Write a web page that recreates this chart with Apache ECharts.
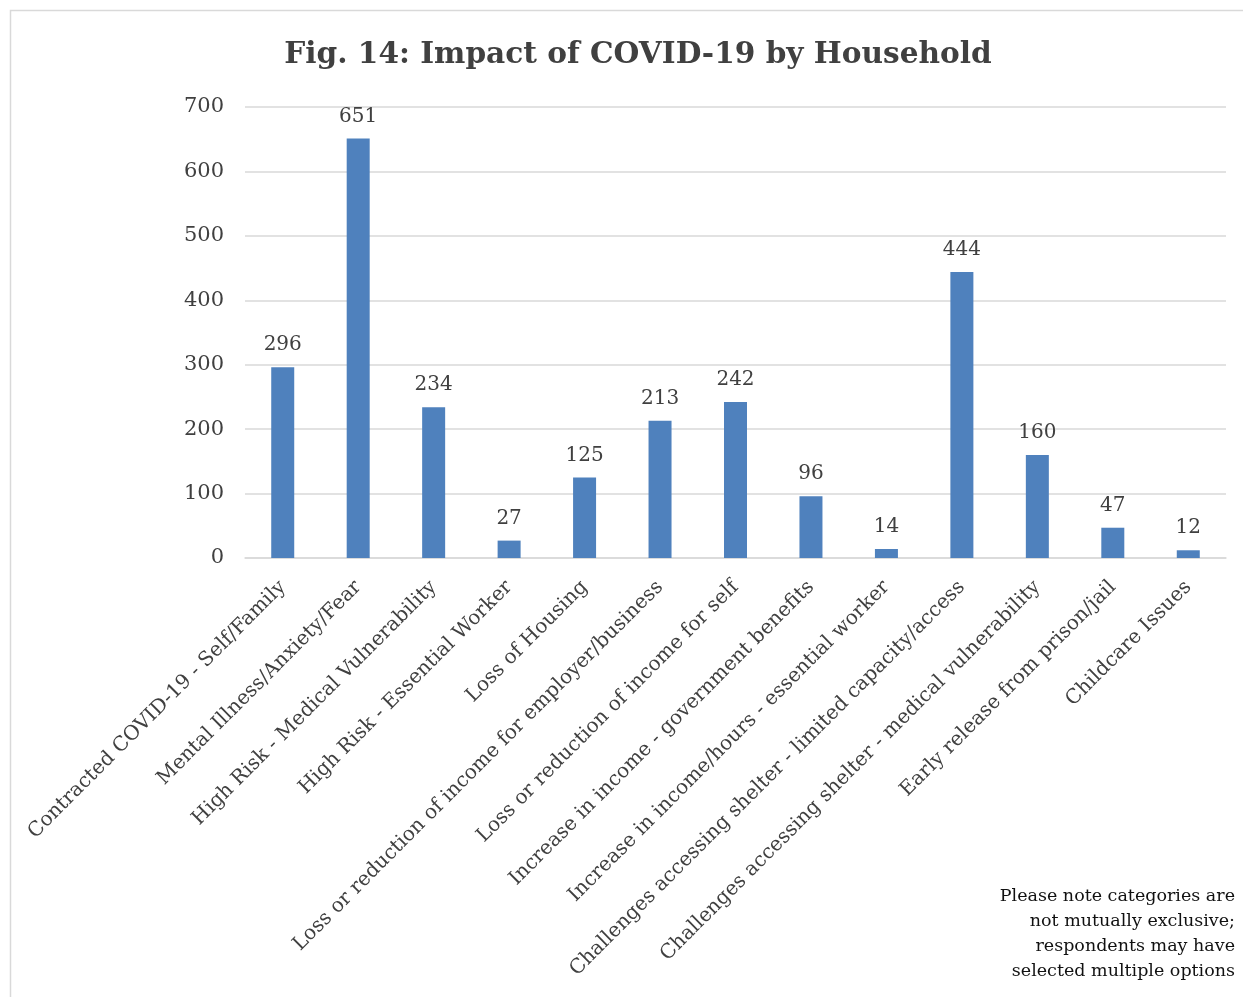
<!DOCTYPE html>
<html>
<head>
<meta charset="utf-8">
<script src="https://cdn.jsdelivr.net/npm/echarts@6/dist/echarts.min.js"></script>
<style>html,body{margin:0;padding:0;background:#fff;}#c{width:1243px;height:997px;}</style>
</head>
<body>
<div id="c"></div>
<script>
const categories = [
  "Contracted COVID-19 - Self/Family",
  "Mental Illness/Anxiety/Fear",
  "High Risk - Medical Vulnerability",
  "High Risk - Essential Worker",
  "Loss of Housing",
  "Loss or reduction of income for employer/business",
  "Loss or reduction of income for self",
  "Increase in income - government benefits",
  "Increase in income/hours - essential worker",
  "Challenges accessing shelter - limited capacity/access",
  "Challenges accessing shelter - medical vulnerability",
  "Early release from prison/jail",
  "Childcare Issues"
];
const values = [296, 651, 234, 27, 125, 213, 242, 96, 14, 444, 160, 47, 12];
const titleText = "Fig. 14: Impact of COVID-19 by Household";
const noteLines = ["Please note categories are", "not mutually exclusive;", "respondents may have", "selected multiple options"];

const FONT = "DejaVu Serif";
const chart = echarts.init(document.getElementById('c'));
const noteGraphics = noteLines.map((t, i) => ({
  type: 'text', x: 1235, y: 896 + i * 25, silent: true,
  style: {text: t, align: 'right', verticalAlign: 'middle', fontFamily: FONT, fontSize: 17.5, fill: '#111'}
}));
chart.setOption({
  backgroundColor: '#fff',
  animation: false,
  title: {
    text: titleText,
    left: 633, top: 35,
    textAlign: 'center',
    textStyle: {fontFamily: FONT, fontWeight: 'bold', fontSize: 29.6, color: '#404040'}
  },
  grid: {left: 245, right: 17, top: 107, bottom: 439, containLabel: false},
  xAxis: {
    type: 'category',
    data: categories,
    axisLine: {lineStyle: {color: '#d9d9d9', width: 1.5}},
    axisTick: {show: false},
    axisLabel: {rotate: 45, interval: 0, margin: 26, fontFamily: FONT, fontSize: 20, color: '#404040'}
  },
  yAxis: {
    type: 'value',
    min: 0, max: 700, interval: 100,
    axisLine: {show: false},
    axisTick: {show: false},
    splitLine: {lineStyle: {color: '#d9d9d9', width: 1.5}},
    axisLabel: {margin: 21, fontFamily: FONT, fontSize: 21, color: '#404040'}
  },
  series: [{
    type: 'bar',
    data: values,
    barWidth: 23,
    itemStyle: {color: '#4f81bd'},
    label: {show: true, position: 'top', distance: 12, fontFamily: FONT, fontSize: 20, color: '#404040'}
  }],
  graphic: [
    {type: 'rect', shape: {x: 10.5, y: 10.5, width: 1260, height: 1010}, style: {fill: 'none', stroke: '#d9d9d9', lineWidth: 1.5}, silent: true}
  ].concat(noteGraphics)
});
</script>
</body>
</html>
